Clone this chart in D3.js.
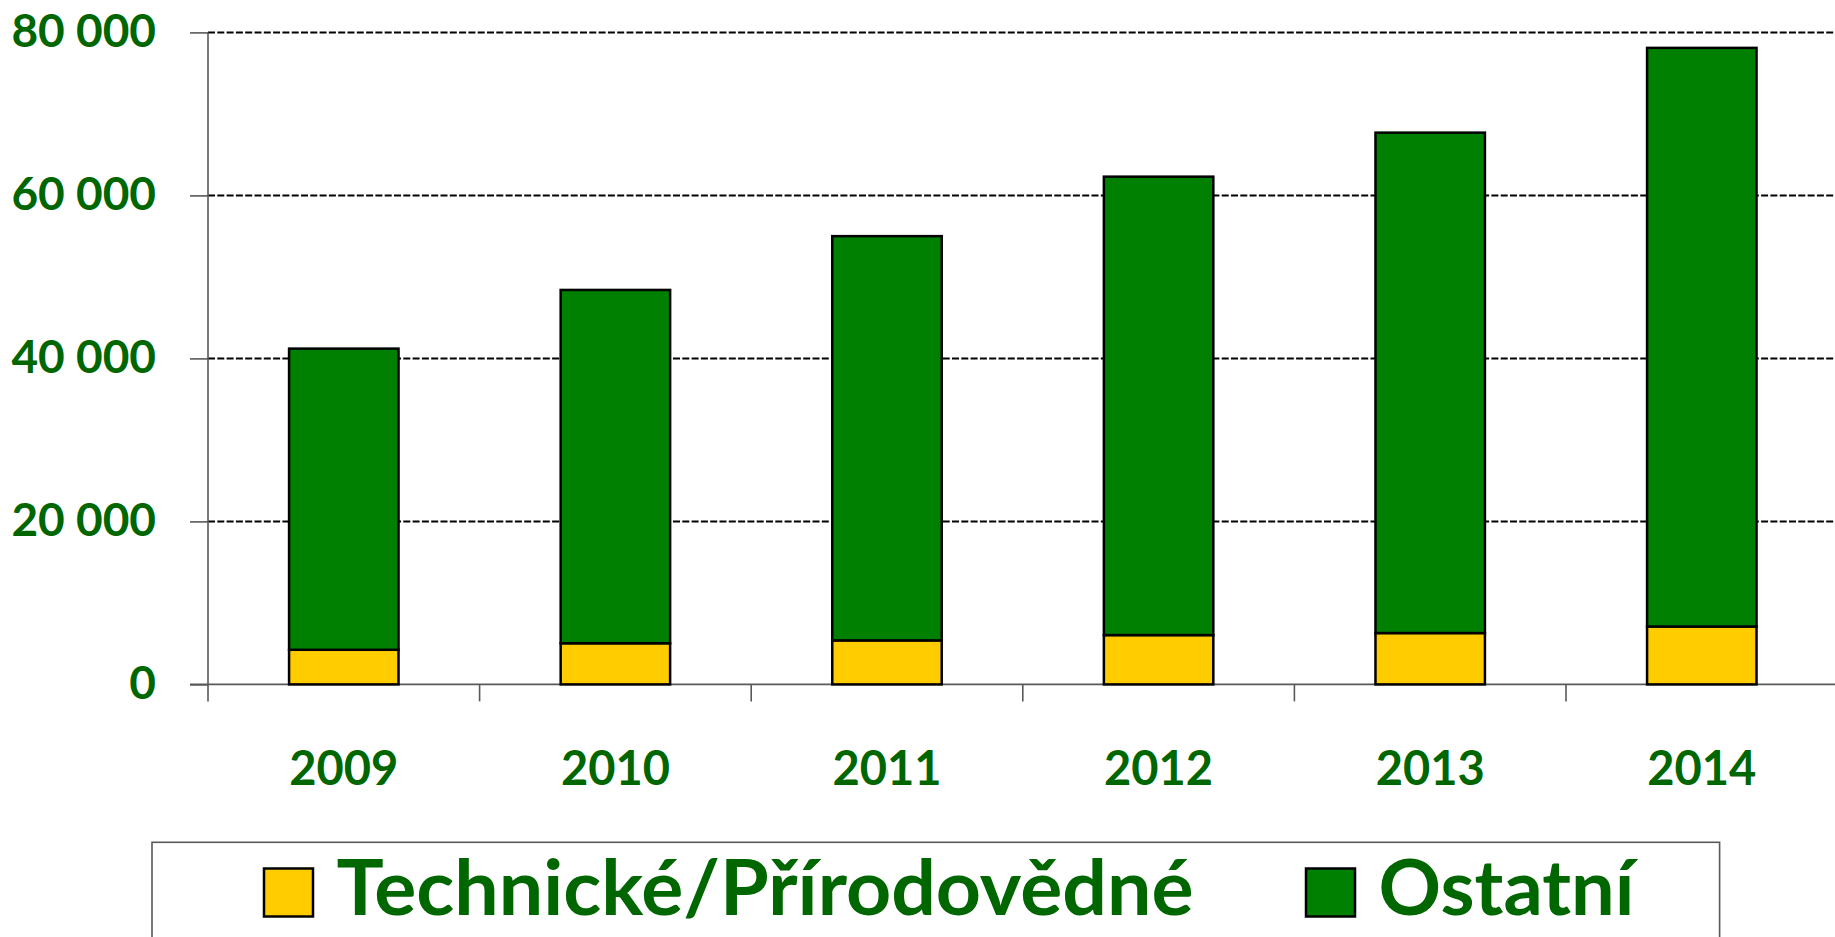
<!DOCTYPE html>
<html>
<head>
<meta charset="utf-8">
<script src="https://cdn.jsdelivr.net/npm/d3@7"></script>
<style>
    body { margin: 0; background: #fff; }
    svg { display: block; }
    text { font-family: Lato, "Open Sans", sans-serif; font-weight: bold; fill: #006600; }
</style>
</head>
<body>
<div class="chart"></div>
<script>
var years = ['2009', '2010', '2011', '2012', '2013', '2014'];
var technicke = [4250, 5050, 5400, 6050, 6300, 7100];
var ostatni = [36950, 43350, 49600, 56250, 61400, 71000];
var seriesNames = ['Technické/Přírodovědné', 'Ostatní'];
var seriesColors = ['#ffcc00', '#008000'];
var yTicks = [0, 20000, 40000, 60000, 80000];
var yTickLabels = ['0', '20 000', '40 000', '60 000', '80 000'];

var W = 1835, H = 937;
var margin = { top: 32.4, left: 208, bottom: 252.6 };
var step = 271.6;
var plotBottom = H - margin.bottom;

var svg = d3.select('.chart')
    .append('svg')
    .attr('width', W)
    .attr('height', H);

// build rows for the stack
var rows = years.map((y, i) => ({ year: y, tech: technicke[i], other: ostatni[i] }));
var stacked = d3.stack().keys(['tech', 'other'])(rows);

var x = d3.scaleBand()
    .domain(years)
    .range([margin.left, margin.left + step * years.length])
    .paddingInner(0.597)
    .paddingOuter(0.2985);

var y = d3.scaleLinear()
    .domain([0, 80000])
    .range([plotBottom, margin.top]);

/**
 * grid lines
 */
svg.append('g')
    .selectAll('line')
    .data(yTicks.filter(d => d > 0))
    .enter()
    .append('line')
    .attr('x1', margin.left)
    .attr('x2', W)
    .attr('y1', d => y(d))
    .attr('y2', d => y(d))
    .attr('stroke', '#000')
    .attr('stroke-width', 2)
    .attr('stroke-dasharray', '7,2.3');

/**
 * y axis
 */
var yAxis = svg.append('g')
    .attr('transform', `translate(${margin.left}, 0)`)
    .call(d3.axisLeft(y)
        .tickValues(yTicks)
        .tickSize(18)
        .tickPadding(0)
        .tickFormat((d, i) => yTickLabels[i]));
yAxis.select('.domain').remove();
yAxis.selectAll('line').attr('stroke', '#595959').attr('stroke-width', 1.6);
yAxis.selectAll('text')
    .attr('x', 156 - margin.left)
    .attr('dy', null)
    .attr('y', 14)
    .style('font-size', '46px')
    .style('font-family', 'Lato, sans-serif')
    .attr('fill', '#006600');
svg.append('line')
    .attr('x1', margin.left).attr('x2', margin.left)
    .attr('y1', y(80000)).attr('y2', plotBottom + 17)
    .attr('stroke', '#595959').attr('stroke-width', 1.6);

/**
 * x axis
 */
var xAxis = svg.append('g')
    .attr('transform', `translate(0, ${plotBottom})`)
    .call(d3.axisBottom(x).tickSize(0).tickPadding(0));
xAxis.select('.domain').remove();
xAxis.selectAll('text')
    .attr('dy', null)
    .attr('y', 101)
    .style('font-size', '47px')
    .style('font-family', 'Lato, sans-serif')
    .attr('fill', '#006600');
svg.append('line')
    .attr('x1', margin.left - 18).attr('x2', W)
    .attr('y1', plotBottom).attr('y2', plotBottom)
    .attr('stroke', '#595959').attr('stroke-width', 1.6);
svg.append('g')
    .selectAll('line')
    .data(years.slice(1))
    .enter()
    .append('line')
    .attr('x1', d => x(d) - x.step() * x.paddingInner() / 2)
    .attr('x2', d => x(d) - x.step() * x.paddingInner() / 2)
    .attr('y1', plotBottom)
    .attr('y2', plotBottom + 17)
    .attr('stroke', '#595959')
    .attr('stroke-width', 1.6);

/**
 * stacked bars
 */
svg.append('g')
    .selectAll('g')
    .data(stacked)
    .enter()
    .append('g')
    .attr('fill', (d, i) => seriesColors[i])
    .selectAll('rect')
    .data(d => d)
    .enter()
    .append('rect')
    .attr('x', d => x(d.data.year))
    .attr('width', x.bandwidth())
    .attr('y', d => y(d[1]))
    .attr('height', d => y(d[0]) - y(d[1]))
    .attr('stroke', '#000')
    .attr('stroke-width', 2.5);

/**
 * legend
 */
var legend = svg.append('g');
legend.append('rect')
    .attr('x', 152)
    .attr('y', 842.3)
    .attr('width', 1567.6)
    .attr('height', 140)
    .attr('fill', 'none')
    .attr('stroke', '#595959')
    .attr('stroke-width', 1.6);

var legendX = [264, 1306];
var legendTextW = [857, 256];
seriesNames.forEach((name, i) => {
    legend.append('rect')
        .attr('x', legendX[i])
        .attr('y', 868.5)
        .attr('width', 49)
        .attr('height', 48)
        .attr('fill', seriesColors[i])
        .attr('stroke', '#000')
        .attr('stroke-width', 2.5);
    legend.append('text')
        .attr('x', legendX[i] + 72.5)
        .attr('y', 915)
        .style('font-size', '76px')
        .attr('textLength', legendTextW[i])
        .attr('lengthAdjust', 'spacingAndGlyphs')
        .text(name);
});
</script>
</body>
</html>
